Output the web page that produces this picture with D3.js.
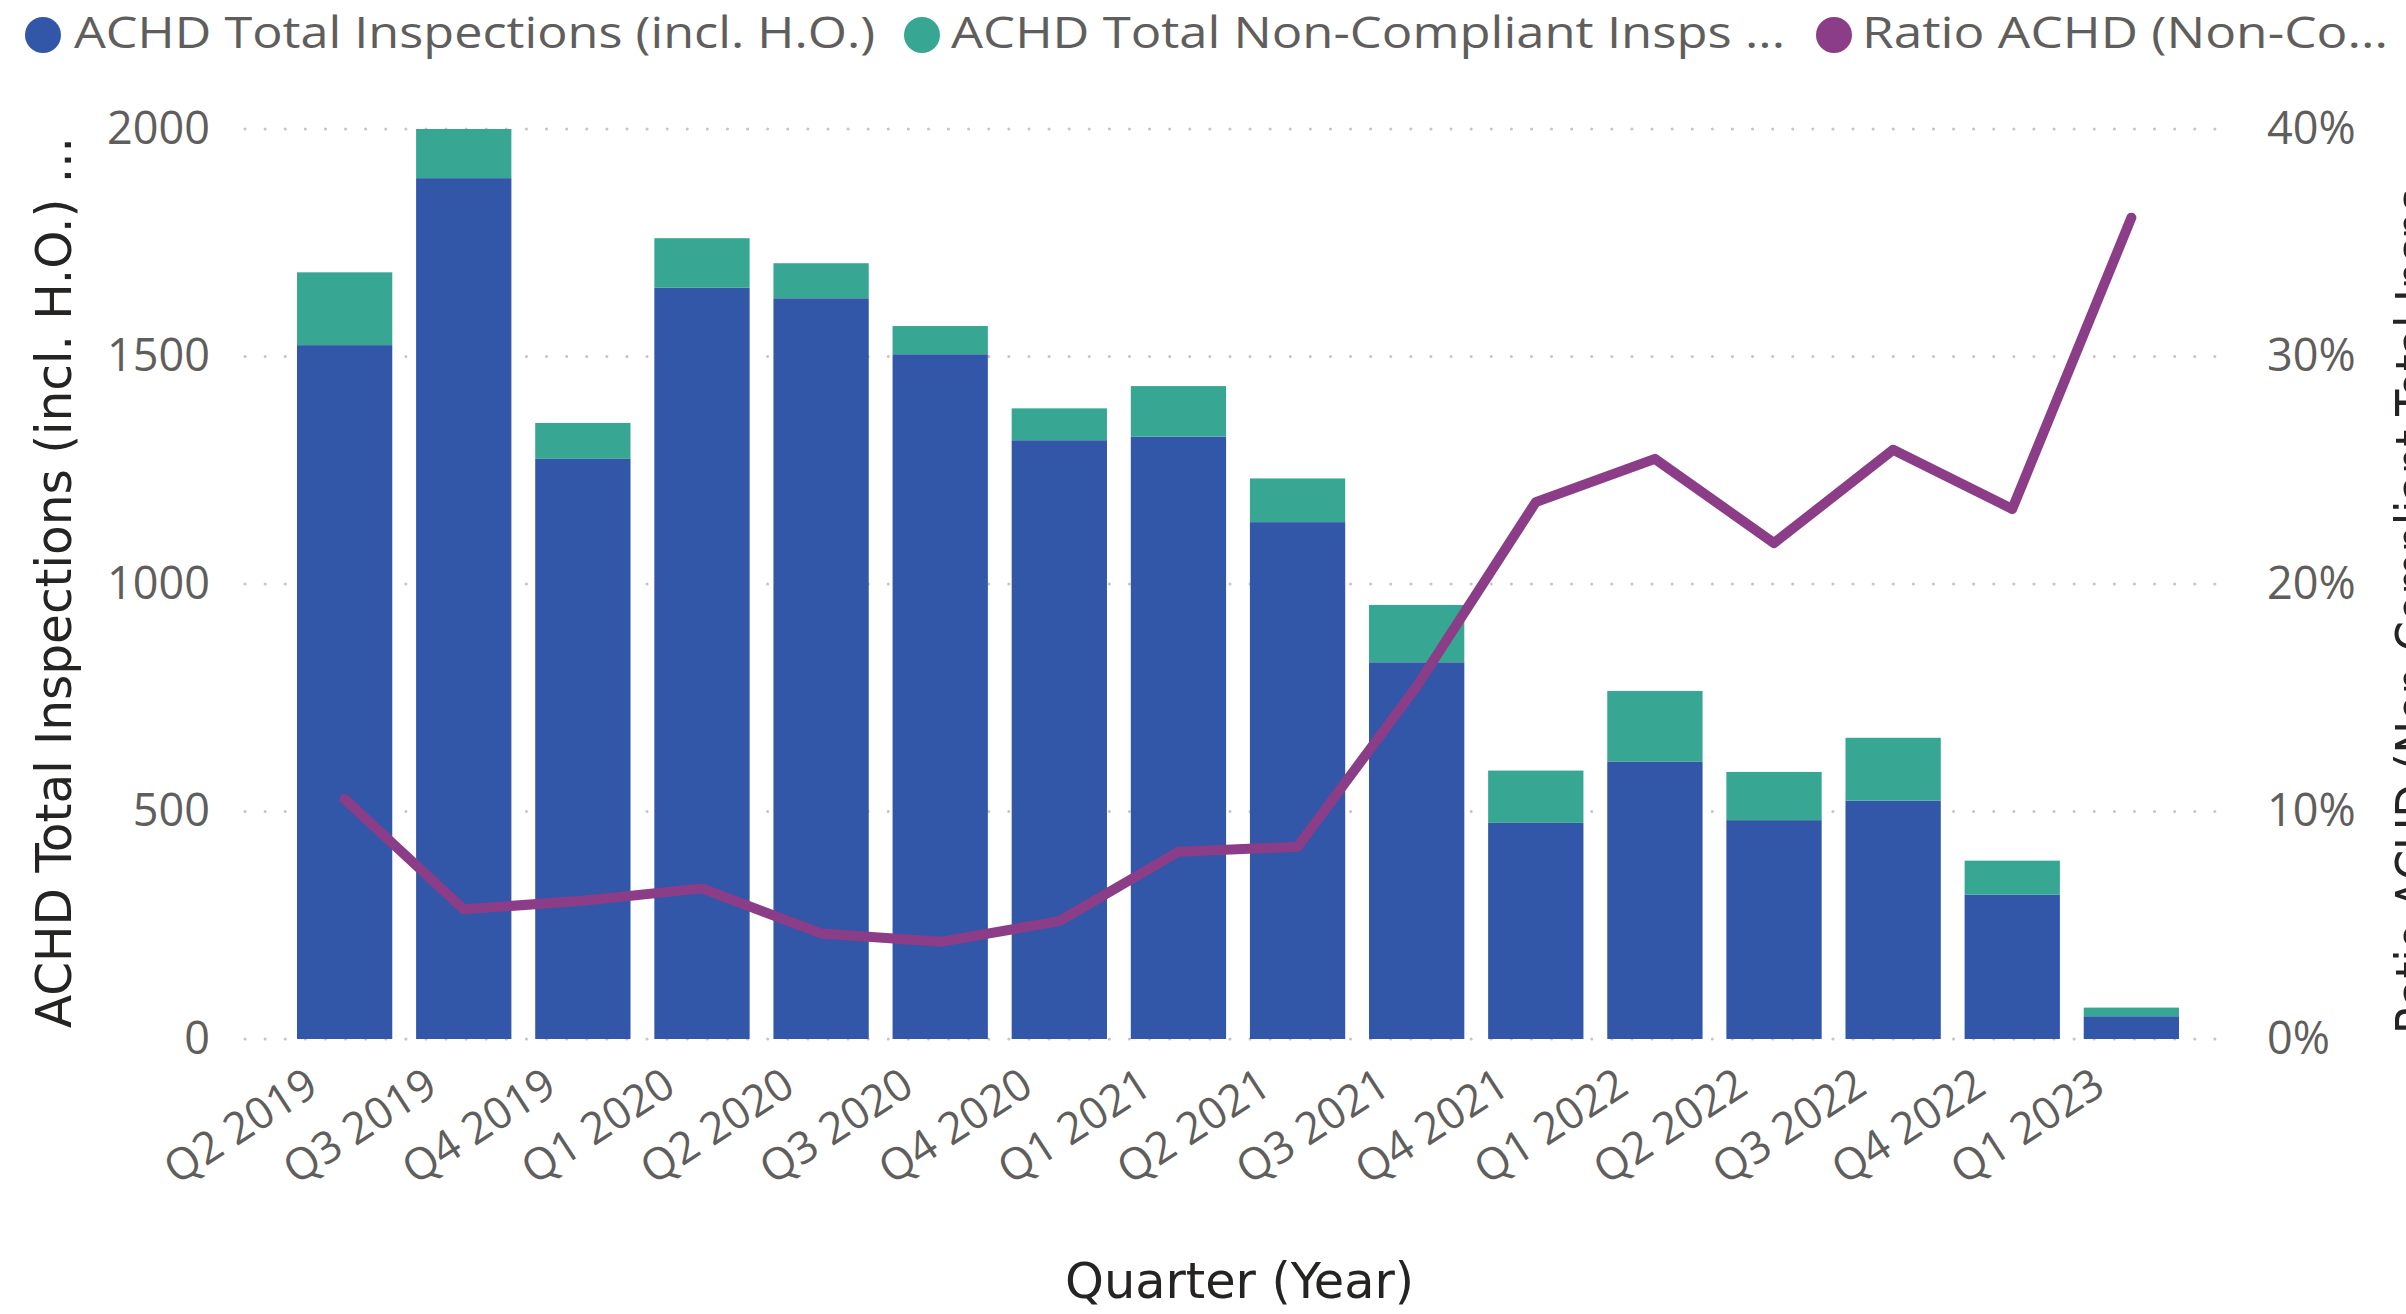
<!DOCTYPE html>
<html><head><meta charset="utf-8">
<script src="https://cdn.jsdelivr.net/npm/d3@7"></script>
<style>body{margin:0;background:#fff}svg{display:block;background:#fff}</style>
</head><body><svg id="chart" width="2406" height="1314"></svg>
<script>
const quarters = ["Q2 2019","Q3 2019","Q4 2019","Q1 2020","Q2 2020","Q3 2020","Q4 2020","Q1 2021","Q2 2021","Q3 2021","Q4 2021","Q1 2022","Q2 2022","Q3 2022","Q4 2022","Q1 2023"];
const inspections = [1525,1892,1275,1651,1628,1505,1316,1324,1136,828,475,610,481,524,317,50];
const nonCompliant = [160,108,79,109,77,62,70,111,96,126,115,155,106,138,75,19];
const ratioPct = [10.55,5.70,6.08,6.62,4.64,4.27,5.18,8.23,8.45,15.5,23.6,25.5,21.8,25.9,23.3,36.1];
const leftTicks = [0,500,1000,1500,2000];
const rightTicks = [0,0.1,0.2,0.3,0.4];
const seriesNames = ["ACHD Total Inspections (incl. H.O.)","ACHD Total Non-Compliant Insps ...","Ratio ACHD (Non-Co..."];
const leftTitle = "ACHD Total Inspections (incl. H.O.) ...";
const rightTitle = "Ratio ACHD (Non-Compliant Total Insps ...";
const xTitle = "Quarter (Year)";

const colors = ["#3257A8","#37A794","#8B3D88"];
const tickGray = "#605E5C", titleDark = "#252423", gridGray = "#C8C6C4";
const sans = "'Segoe UI','Open Sans','Noto Sans',sans-serif";
const din = "'DejaVu Sans Condensed','Liberation Sans Narrow','Roboto',sans-serif";

const svg = d3.select("#chart");
const gridX0 = 245, gridX1 = 2233, yTop = 129, yBot = 1039;

const x = d3.scaleBand().domain(quarters).range([285.07, 2190.93]).paddingInner(0.2).paddingOuter(0.1);
const y = d3.scaleLinear().domain([0,2000]).range([yBot, yTop]);
const yR = d3.scaleLinear().domain([0,0.4]).range([yBot, yTop]);

// gridlines
svg.append("g").selectAll("line").data(leftTicks).join("line")
  .attr("x1", gridX0).attr("x2", gridX1)
  .attr("y1", d => y(d)).attr("y2", d => y(d))
  .attr("stroke", gridGray).attr("stroke-width", 3)
  .attr("stroke-linecap","round").attr("stroke-dasharray","0.1 20");

// bars
const bw = x.bandwidth();
const bars = svg.append("g");
bars.selectAll("rect.base").data(quarters).join("rect").attr("class","base")
  .attr("x", d => x(d)).attr("width", bw)
  .attr("y", (d,i) => y(inspections[i])).attr("height", (d,i) => y(0) - y(inspections[i]))
  .attr("fill", colors[0]);
bars.selectAll("rect.top").data(quarters).join("rect").attr("class","top")
  .attr("x", d => x(d)).attr("width", bw)
  .attr("y", (d,i) => y(inspections[i] + nonCompliant[i]))
  .attr("height", (d,i) => y(inspections[i]) - y(inspections[i] + nonCompliant[i]))
  .attr("fill", colors[1]);

// line
const line = d3.line().x((d,i) => x(quarters[i]) + bw/2).y(d => yR(d/100));
svg.append("path").datum(ratioPct).attr("d", line)
  .attr("fill","none").attr("stroke", colors[2]).attr("stroke-width", 10)
  .attr("stroke-linejoin","round").attr("stroke-linecap","round");

// left axis
const gl = svg.append("g").attr("transform", `translate(210,0)`)
  .call(d3.axisLeft(y).tickValues(leftTicks).tickFormat(d3.format("d")).tickSize(0).tickPadding(0));
gl.select(".domain").remove();
gl.selectAll("text").attr("font-family", sans).attr("font-size", 45).attr("fill", tickGray);

// right axis
const gr = svg.append("g").attr("transform", `translate(2267,0)`)
  .call(d3.axisRight(yR).tickValues(rightTicks).tickFormat(d3.format(".0%")).tickSize(0).tickPadding(0));
gr.select(".domain").remove();
gr.selectAll("text").attr("font-family", sans).attr("font-size", 45).attr("fill", tickGray);

// bottom axis
const gb = svg.append("g").attr("transform", `translate(0,${yBot})`)
  .call(d3.axisBottom(x).tickSize(0).tickPadding(0));
gb.select(".domain").remove();
gb.selectAll("text").attr("font-family", sans).attr("font-size", 44).attr("fill", tickGray)
  .attr("text-anchor","end").attr("y",0).attr("dy",0)
  .attr("transform","translate(-24,53) rotate(-33)");

// axis titles
svg.append("text").attr("transform","translate(71,582.5) rotate(-90)")
  .attr("text-anchor","middle").attr("font-family", din).attr("font-size", 50)
  .attr("fill", titleDark).attr("textLength", 891).attr("lengthAdjust","spacingAndGlyphs")
  .text(leftTitle);
svg.append("text").attr("transform","translate(2431,584) rotate(-90)")
  .attr("text-anchor","middle").attr("font-family", din).attr("font-size", 50)
  .attr("fill", titleDark).attr("textLength", 900).attr("lengthAdjust","spacingAndGlyphs")
  .text(rightTitle);
svg.append("text").attr("x", 1239.5).attr("y", 1298)
  .attr("text-anchor","middle").attr("font-family", din).attr("font-size", 50)
  .attr("fill", titleDark).attr("textLength", 349).attr("lengthAdjust","spacingAndGlyphs")
  .text(xTitle);

// legend
const legCx = [43, 922, 1834], legTx = [74, 951, 1862], legLen = [801, 834, 526];
const lg = svg.append("g");
seriesNames.forEach((name, i) => {
  lg.append("circle").attr("cx", legCx[i]).attr("cy", 35).attr("r", 18).attr("fill", colors[i]);
  lg.append("text").attr("x", legTx[i]).attr("y", 48).attr("font-family", sans).attr("font-size", 44)
    .attr("fill", tickGray).attr("textLength", legLen[i]).attr("lengthAdjust","spacingAndGlyphs").text(name);
});
</script>
</body></html>
